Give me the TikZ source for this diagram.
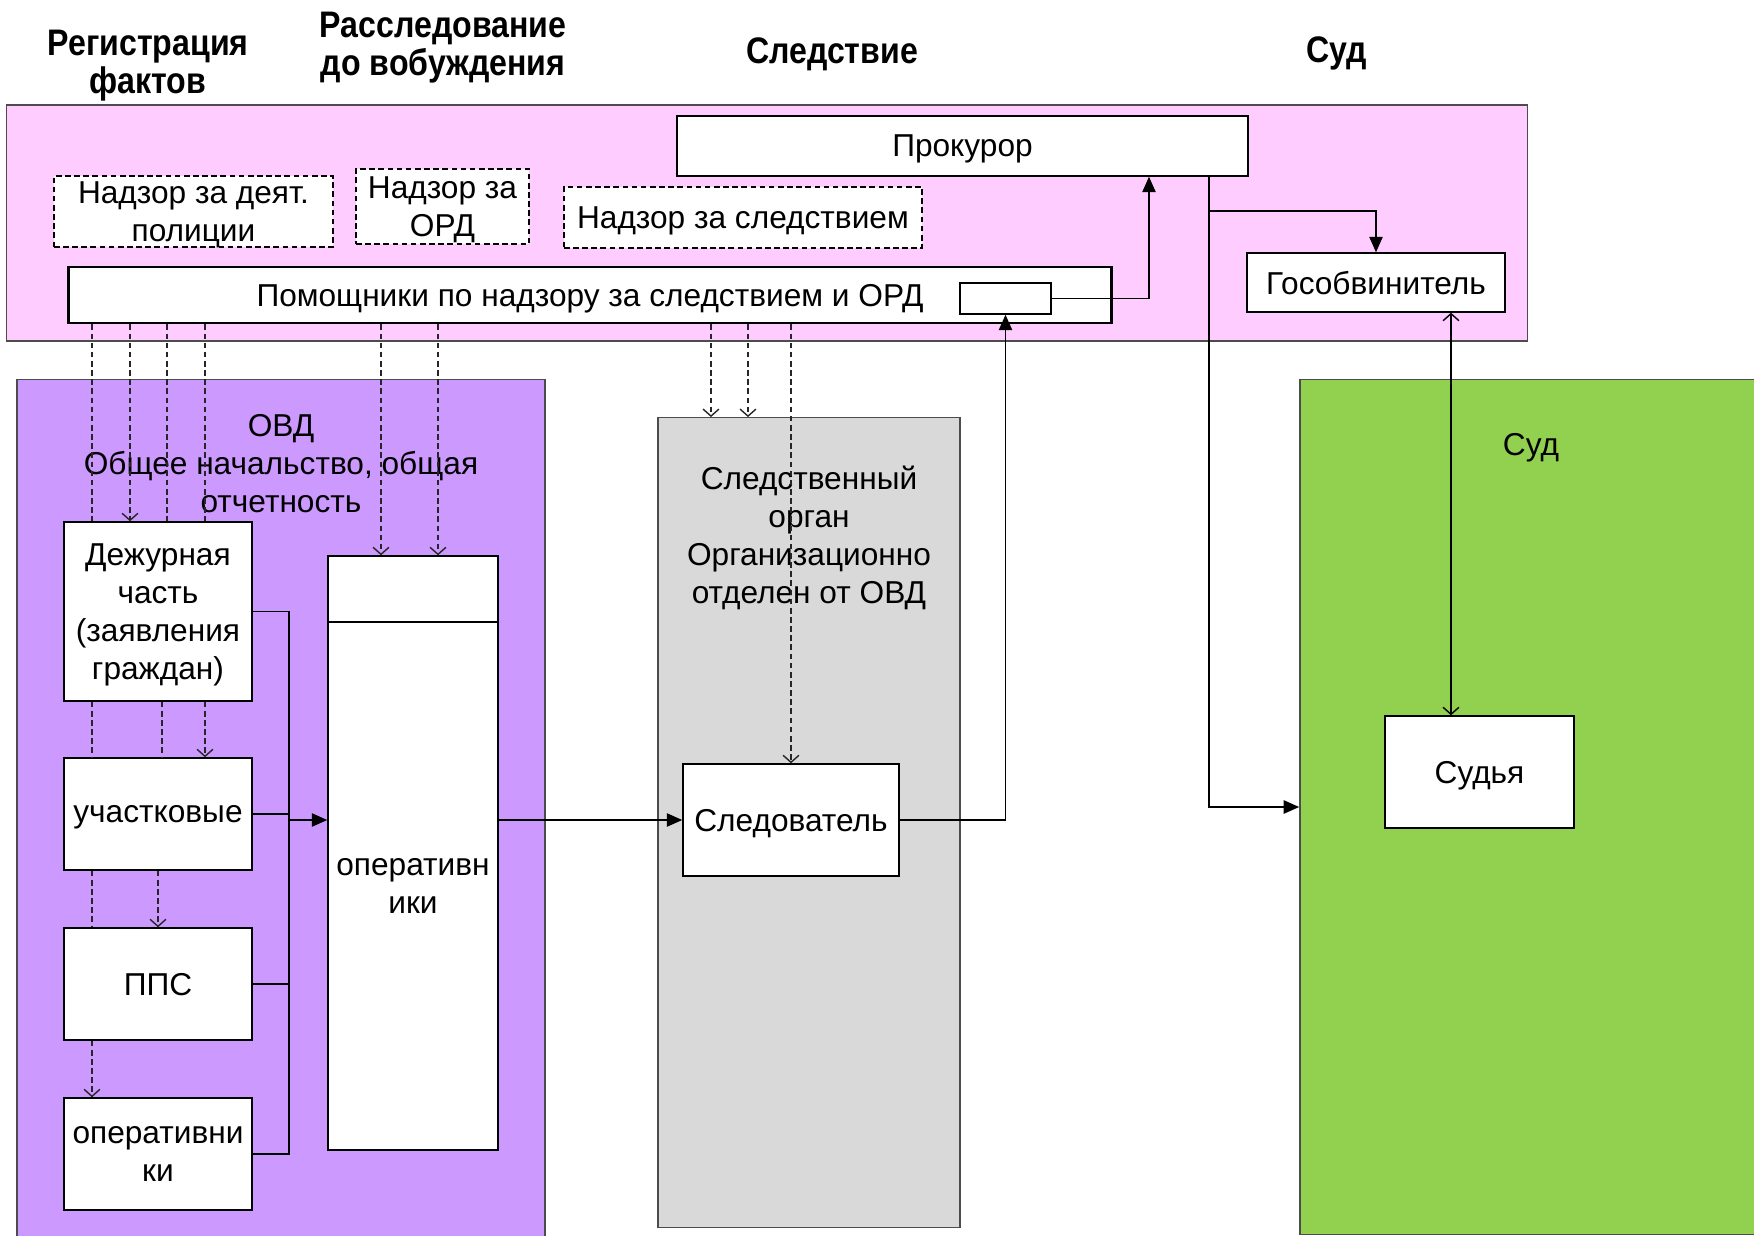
\documentclass[tikz,border=0pt]{standalone}
\usepackage{fontspec}
\setmainfont{Liberation Sans}
\newfontfamily\hdrfont[FakeStretch=0.87]{Liberation Sans}
\usetikzlibrary{arrows.meta}
\definecolor{pink-bg}{HTML}{FFCCFF}
\definecolor{violet-bg}{HTML}{CC99FF}
\definecolor{gray-bg}{HTML}{D9D9D9}
\definecolor{green-bg}{HTML}{92D050}

\begin{document}
\begin{tikzpicture}[
    x=0.01cm, y=-0.01cm,
    every node/.style={font=\fontsize{9}{10.8}\selectfont, align=center, inner sep=0pt, text depth=0pt},
    area/.style={draw=black!70},
    box/.style={draw, fill=white},
    nadzor/.style={box, dash pattern=on 1.6pt off 1pt},
    hdr/.style={font=\hdrfont\bfseries\fontsize{10.5}{10.8}\selectfont},
    dsh/.style={draw=black!85, dash pattern=on 1.6pt off 1pt},
    dsharr/.style={dsh, -{Straight Barb[length=2pt,width=4.5pt]}},
    arr/.style={-{Triangle[length=4.4pt,width=3.8pt]}},
]
\useasboundingbox (0,0) rectangle (1754,1236);

% stages
\node[hdr] (h-reg) at (148,62) {Регистрация\\фактов};
\node[hdr] (h-rass) at (443,44) {Расследование\\до вобуждения};
\node[hdr] (h-sled) at (832,51) {Следствие};
\node[hdr] (h-sud) at (1337,50) {Суд};

% areas
\node[area, fill=pink-bg, minimum width=15.2cm, minimum height=2.36cm] (prokuratura) at (767,223) {};
\node[area, fill=violet-bg, minimum width=5.28cm, minimum height=8.6cm] (ovd) at (281,810) {};
\node[area, fill=gray-bg, minimum width=3.02cm, minimum height=8.09cm] (so) at (809,822.5) {};
\node[area, fill=green-bg, minimum width=4.6cm, minimum height=8.54cm] (sud) at (1530,807) {};

\node (ovd-txt) at (281,463) {ОВД\\Общее начальство, общая\\отчетность};
\node (so-txt) at (809,535) {Следственный\\орган\\Организационно\\отделен от ОВД};
\node (sud-txt) at (1531,444) {Суд};

% prosecutor's office
\node[box, minimum width=5.71cm, minimum height=0.6cm] (prok) at (962.5,146) {Прокурор};
\node[nadzor, minimum width=2.79cm, minimum height=0.71cm] (nad-pol) at (193.5,211.5) {Надзор за деят.\\полиции};
\node[nadzor, minimum width=1.73cm, minimum height=0.75cm] (nad-ord) at (442.5,206.5) {Надзор за\\ОРД};
\node[nadzor, minimum width=3.58cm, minimum height=0.61cm] (nad-sled) at (743,217.5) {Надзор за следствием};
\node[box, line width=0.8pt, minimum width=10.42cm, minimum height=0.56cm] (pom) at (590,295) {Помощники по надзору за следствием и ОРД};
\node[box, minimum width=0.91cm, minimum height=0.31cm] (okno) at (1005.5,298.5) {};
\node[box, minimum width=2.58cm, minimum height=0.59cm] (gos) at (1376,282.5) {Гособвинитель};

% police
\node[box, minimum width=1.88cm, minimum height=1.79cm] (dezh) at (158,611.5) {Дежурная\\часть\\(заявления\\граждан)};
\node[box, minimum width=1.88cm, minimum height=1.12cm] (uch) at (158,814) {участковые};
\node[box, minimum width=1.88cm, minimum height=1.12cm] (pps) at (158,984) {ППС};
\node[box, minimum width=1.88cm, minimum height=1.12cm] (operl) at (158,1154) {оперативни\\ки};
\node[box, minimum width=1.7cm, minimum height=0.66cm] (opertop) at (413,589) {};
\node[box, minimum width=1.7cm, minimum height=5.28cm] (operbot) at (413,886) {оперативн\\ики};

\node[box, minimum width=2.16cm, minimum height=1.12cm] (sled) at (791,820) {Следователь};
\node[box, minimum width=1.89cm, minimum height=1.12cm] (sudya) at (1479.5,772) {Судья};

% supervision lines
\foreach \x in {92,167,205}
    \draw[dsh] (\x,0 |- pom.south) -- (\x,0 |- dezh.north);
\foreach \x in {92,162}
    \draw[dsh] (\x,0 |- dezh.south) -- (\x,0 |- uch.north);
\draw[dsh] (92,0 |- uch.south) -- (92,0 |- pps.north);
\draw[dsharr] (92,0 |- pps.south) -- (92,0 |- operl.north);
\draw[dsharr] (130,0 |- pom.south) -- (130,0 |- dezh.north);
\draw[dsharr] (205,0 |- dezh.south) -- (205,0 |- uch.north);
\draw[dsharr] (158,0 |- uch.south) -- (158,0 |- pps.north);
\foreach \x in {381,438}
    \draw[dsharr] (\x,0 |- pom.south) -- (\x,0 |- opertop.north);
\foreach \x in {711,748}
    \draw[dsharr] (\x,0 |- pom.south) -- (\x,0 |- so.north);
\draw[dsharr] (sled.north |- pom.south) -- (sled.north);

% connectors
\coordinate (bus) at (289,612);
\draw (dezh.east) -- (bus |- dezh.east) -- (bus |- operl.east) -- (operl.east);
\foreach \n in {uch,pps}
    \draw (\n.east) -- (bus |- \n.east);
\draw[arr] (bus |- sled.west) -- (operbot.west |- sled.west);
\draw[arr] (operbot.east |- sled.west) -- (sled.west);
\draw[arr] (sled.east) -- (okno.south |- sled.east) -- (okno.south);
\draw[arr] (okno.east) -- (1149,0 |- okno.east) -- (1149,0 |- prok.south);
\draw[arr] (1209,0 |- prok.south) -- (1209,211) -- (gos.north |- 0,211) -- (gos.north);
\draw[arr] (1209,0 |- prok.south) -- (1209,0 |- sud.west) -- (sud.west);
\draw[{Straight Barb[length=2pt,width=4.5pt]}-{Straight Barb[length=2pt,width=4.5pt]}] (1451,0 |- gos.south) -- (1451,0 |- sudya.north);
\end{tikzpicture}
\end{document}
